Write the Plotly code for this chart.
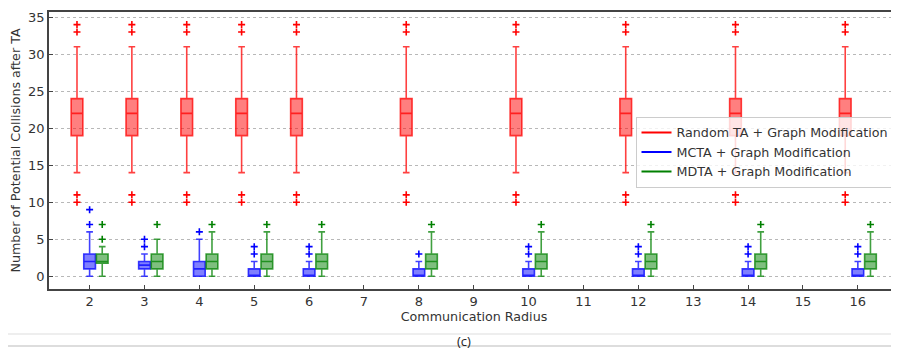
import plotly.graph_objects as go

# ---------------- data ----------------
radii = [2, 3, 4, 5, 6, 8, 10, 12, 14, 16]

# Random TA + Graph Modification
rand_q1 = [19] * 10
rand_med = [22] * 10
rand_q3 = [24] * 10
rand_lo = [14] * 10
rand_hi = [31] * 10
rand_out = [[10, 11, 33, 34]] * 10

# MCTA + Graph Modification
mcta_q1 = [1, 1, 0, 0, 0, 0, 0, 0, 0, 0]
mcta_med = [2, 1.5, 1, 0, 0, 0, 0, 0, 0, 0]
mcta_q3 = [3, 2, 2, 1, 1, 1, 1, 1, 1, 1]
mcta_lo = [0, 0, 0, 0, 0, 0, 0, 0, 0, 0]
mcta_hi = [6, 3, 5, 2, 2, 2, 2, 2, 2, 2]
mcta_out = [[7, 9], [4, 5], [6], [3, 4], [3, 4], [3], [3, 4], [3, 4], [3, 4], [3, 4]]

# MDTA + Graph Modification
mdta_q1 = [1.75, 1, 1, 1, 1, 1, 1, 1, 1, 1]
mdta_med = [2, 2, 2, 2, 2, 2, 2, 2, 2, 2]
mdta_q3 = [3, 3, 3, 3, 3, 3, 3, 3, 3, 3]
mdta_lo = [0, 0, 0, 0, 0, 0, 0, 0, 0, 0]
mdta_hi = [4, 5, 6, 6, 6, 6, 6, 6, 6, 6]
mdta_out = [[5, 7], [7], [7], [7], [7], [7], [7], [7], [7], [7]]

x_ticks = list(range(2, 17))
y_ticks = [0, 5, 10, 15, 20, 25, 30, 35]

series = [
    ("Random TA + Graph Modification", (255, 0, 0), -0.23,
     rand_q1, rand_med, rand_q3, rand_lo, rand_hi, rand_out),
    ("MCTA + Graph Modification", (0, 0, 255), 0.0,
     mcta_q1, mcta_med, mcta_q3, mcta_lo, mcta_hi, mcta_out),
    ("MDTA + Graph Modification", (0, 128, 0), 0.23,
     mdta_q1, mdta_med, mdta_q3, mdta_lo, mdta_hi, mdta_out),
]

fig = go.Figure()
for name, (r, g, b), off, q1, med, q3, lo, hi, outs in series:
    xs = [rad + off for rad in radii]
    fig.add_trace(go.Box(
        x=xs, q1=q1, median=med, q3=q3, lowerfence=lo, upperfence=hi,
        width=0.213, whiskerwidth=0.57, boxpoints=False,
        fillcolor=f"rgba({r},{g},{b},0.5)",
        line=dict(color=f"rgba({r},{g},{b},0.75)", width=1.6),
        showlegend=False, name=name,
    ))
    ox, oy = [], []
    for xv, ol in zip(xs, outs):
        for v in ol:
            ox.append(xv)
            oy.append(v)
    fig.add_trace(go.Scatter(
        x=ox, y=oy, mode="markers", showlegend=False, name=name,
        marker=dict(symbol="cross-thin", size=5, color=f"rgb({r},{g},{b})",
                    line=dict(width=1.6, color=f"rgb({r},{g},{b})")),
    ))

for name, (r, g, b), *_ in series:
    fig.add_trace(go.Scatter(
        x=[None], y=[None], mode="lines", name=name,
        line=dict(color=f"rgb({r},{g},{b})", width=2),
    ))

axis_col = "#444444"
font_col = "#333333"
fs = 12.7
# The page body has an 8px margin, so the figure is sized to fit inside it.
fig.update_layout(
    width=891, height=341,
    margin=dict(l=41, r=0, t=4, b=60),
    paper_bgcolor="white", plot_bgcolor="white",
    font=dict(family="DejaVu Sans", size=fs, color=font_col),
    showlegend=True,
    legend=dict(
        x=0.690, y=0.622, xanchor="left", yanchor="top",
        bgcolor="rgba(255,255,255,0.8)", bordercolor="#cccccc", borderwidth=1,
        font=dict(family="DejaVu Sans", size=fs, color=font_col),
        tracegroupgap=0, itemwidth=30,
    ),
    xaxis=dict(
        range=[1.26, 16.75], tickmode="array", tickvals=x_ticks,
        ticktext=[str(t) for t in x_ticks],
        ticks="inside", ticklen=4, tickwidth=1, tickcolor=axis_col,
        showline=True, linecolor=axis_col, linewidth=1.5, mirror=True,
        showgrid=False, zeroline=False,
        title=dict(text="Communication Radius", standoff=4,
                   font=dict(size=fs, color=font_col)),
        tickfont=dict(size=13, color=font_col),
    ),
    yaxis=dict(
        range=[-1.72, 35.7], tickmode="array", tickvals=y_ticks,
        ticks="inside", ticklen=4, tickwidth=1, tickcolor=axis_col,
        showline=True, linecolor=axis_col, linewidth=1.5,
        showgrid=True, gridcolor="#b8b8b8", griddash="dot", gridwidth=1,
        zeroline=False,
        title=dict(text="Number of Potential Collisions after TA", standoff=5,
                   font=dict(size=fs, color=font_col)),
        tickfont=dict(size=13, color=font_col),
    ),
    shapes=[
        dict(type="line", xref="paper", yref="paper", x0=-41 / 850, x1=1.0,
             y0=-45 / 277, y1=-45 / 277, line=dict(color="#dddddd", width=1)),
        dict(type="line", xref="paper", yref="paper", x0=-41 / 850, x1=1.0,
             y0=-57 / 277, y1=-57 / 277, line=dict(color="#bbbbbb", width=1)),
    ],
    annotations=[
        dict(text="(c)", xref="paper", yref="paper", x=(456 - 41) / 850,
             y=-51.5 / 277, xanchor="center", yanchor="middle", showarrow=False,
             font=dict(family="Open Sans", size=13, color="#222222")),
    ],
)

fig.write_html("out.html")
